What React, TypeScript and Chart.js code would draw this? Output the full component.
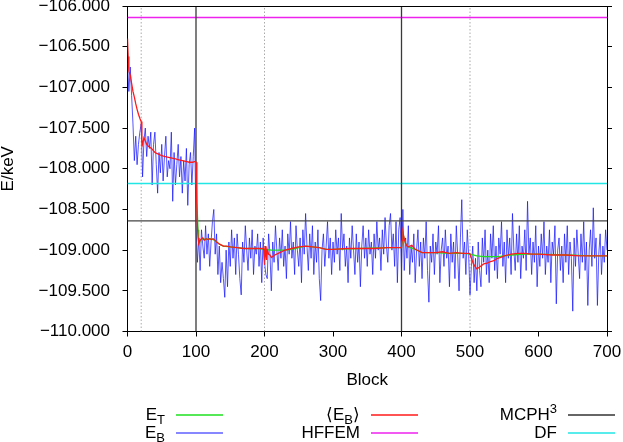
import React, { useEffect, useRef } from "react";
import { Chart, registerables } from "chart.js";

Chart.register(...registerables);

// ---------- data ----------
const blockStep = 2;
// E_B : block energy (every 2nd block, blocks 0..700)
const ebValues = [
  -106.70, -107.05, -106.75, -107.10, -107.45, -107.90, -107.60, -107.95, -107.70, -107.55, -107.45,
  -108.10, -107.65, -107.50, -107.85, -107.60, -107.75, -107.55, -108.20, -107.70, -107.55,
  -107.95, -108.30, -107.80, -108.05, -107.70, -108.15, -107.85, -107.60, -108.10, -107.90,
  -108.00, -107.55, -108.40, -107.80, -108.20, -107.95, -107.70, -108.10, -107.85, -108.30,
  -107.90, -108.15, -107.75, -108.45, -107.95, -107.80, -108.20, -107.85, -107.50, -108.70,
  -109.15, -108.85, -109.25, -108.75, -108.95, -109.10, -108.70, -109.05, -108.80, -109.20,
  -108.90, -108.65, -108.50, -109.05, -108.80, -109.30, -108.95, -109.40, -109.15, -109.35,
  -109.58, -109.00, -109.45, -108.90, -109.20, -108.75, -109.10, -108.85, -109.30, -108.80,
  -109.05, -109.35, -109.55, -108.90, -109.15, -108.70, -109.00, -109.25, -108.85, -109.10,
  -108.75, -109.30, -108.95, -109.05, -108.80, -109.20, -108.90, -109.40, -108.85, -109.15,
  -109.30, -109.35, -108.80, -109.05, -109.50, -108.90, -109.15, -108.70, -109.00, -109.25,
  -108.85, -109.10, -108.75, -109.20, -108.95, -109.35, -108.80, -109.05, -108.65, -109.10,
  -108.90, -109.30, -108.70, -109.00, -109.20, -108.85, -109.40, -108.75, -109.05, -108.55,
  -108.95, -109.25, -108.80, -109.10, -108.70, -109.30, -108.90, -109.15, -108.75, -109.35,
  -109.62, -109.00, -108.80, -109.20, -108.95, -108.65, -109.10, -108.85, -109.30, -108.90,
  -109.15, -108.75, -109.05, -108.85, -109.25, -108.55, -109.00, -108.80, -109.20, -108.95,
  -109.40, -108.85, -109.10, -108.70, -109.00, -109.30, -108.80, -109.15, -108.90, -109.45,
  -108.95, -108.70, -109.10, -108.85, -109.20, -108.75, -109.05, -108.90, -109.30, -108.80,
  -109.10, -108.65, -109.00, -108.85, -109.25, -108.75, -109.05, -108.60, -108.95, -109.15,
  -108.70, -108.55, -109.00, -108.80, -109.20, -108.65, -109.40, -108.75, -108.60, -109.25,
  -108.50, -109.25, -108.85, -109.10, -108.70, -109.30, -108.95, -109.15, -108.80, -109.40,
  -109.00, -108.75, -109.20, -108.90, -109.35, -108.85, -109.10, -108.65, -109.25, -109.64,
  -108.95, -109.15, -108.80, -109.30, -108.90, -109.05, -108.70, -109.40, -109.00, -108.85,
  -109.20, -108.75, -109.10, -108.95, -109.45, -108.80, -109.15, -108.90, -109.35, -108.70,
  -109.05, -109.50, -108.85, -108.38, -109.10, -108.90, -109.30, -108.75, -109.05, -109.55,
  -109.20, -108.95, -109.40, -109.10, -109.50, -108.90, -109.25, -109.45, -108.85, -109.15,
  -108.75, -109.30, -109.00, -109.40, -108.80, -109.10, -108.70, -109.25, -108.95, -109.35,
  -108.85, -109.05, -108.65, -109.20, -108.90, -109.40, -108.75, -109.10, -108.85, -109.30,
  -108.55, -109.00, -109.25, -108.80, -109.15, -108.70, -109.35, -108.95, -109.10, -108.75,
  -109.25, -108.40, -109.05, -108.85, -109.30, -108.90, -109.15, -108.70, -109.45, -108.95,
  -109.20, -108.80, -109.10, -108.65, -109.30, -108.95, -109.15, -108.75, -109.40, -108.90,
  -109.05, -108.70, -109.66, -109.00, -108.85, -109.25, -108.95, -109.40, -108.80, -109.15,
  -108.70, -109.30, -108.90, -109.10, -109.75, -108.85, -109.20, -108.75, -109.05, -109.35,
  -108.80, -109.15, -108.65, -109.25, -108.90, -109.68, -109.00, -108.75, -109.20, -108.48,
  -109.10, -108.85, -109.68, -109.05, -108.80, -109.30, -108.95, -109.15, -108.75, -109.00,
];

// <E_B> : running average
const avgBlocks = [
  0, 1, 2, 4, 6, 8, 10, 12, 14, 16, 18, 19, 20, 21, 22, 24, 26, 28, 30, 35, 40, 45, 50, 55, 60, 65, 70, 75, 80, 85, 90, 95, 99,
  100, 101, 102, 103, 104, 106, 108, 110, 112, 115, 118, 120, 122, 125, 128, 130, 135, 140, 145, 150, 160, 170, 180, 190, 198,
  199, 200, 201, 202, 203, 204, 206, 208, 210, 215, 220, 225, 230, 240, 250, 260, 270, 280, 290, 300, 320, 340, 360, 380, 399,
  400, 401, 402, 404, 406, 408, 410, 415, 420, 425, 430, 440, 450, 460, 470, 480, 490, 499, 500, 502, 505, 508, 510, 512, 515,
  520, 525, 530, 535, 540, 545, 550, 560, 570, 580, 590, 600, 620, 640, 660, 680, 700,
];
const avgValues = [
  -106.40, -106.62, -106.80, -106.85, -106.95, -107.05, -107.12, -107.20, -107.27, -107.33, -107.38, -107.40, -107.42, -107.65, -107.70, -107.62, -107.66, -107.70, -107.72, -107.75, -107.80, -107.82, -107.84, -107.85, -107.86, -107.87, -107.88, -107.89, -107.90, -107.91, -107.92, -107.92, -107.91,
  -107.92, -108.40, -108.70, -108.85, -108.92, -108.88, -108.86, -108.85, -108.88, -108.86, -108.87, -108.86, -108.87, -108.86, -108.88, -108.90, -108.93, -108.95, -108.95, -108.96, -108.97, -108.98, -108.98, -108.98, -108.98,
  -109.00, -109.18, -108.95, -109.05, -109.12, -109.00, -109.05, -109.06, -109.09, -109.06, -109.04, -109.02, -109.00, -108.98, -108.96, -108.95, -108.96, -108.97, -108.99, -108.99, -108.98, -108.98, -108.98, -108.97, -108.97,
  -108.97, -108.88, -108.78, -108.86, -108.92, -108.95, -108.96, -108.94, -108.99, -109.01, -109.03, -109.03, -109.03, -109.02, -109.04, -109.03, -109.04, -109.04, -109.05, -109.10, -109.17, -109.21, -109.23, -109.22, -109.20,
  -109.17, -109.16, -109.14, -109.13, -109.10, -109.09, -109.07, -109.05, -109.04, -109.04, -109.05, -109.05, -109.06, -109.06, -109.07, -109.07, -109.07,
];

// E_T : trial energy
const etBlocks = [
  100, 101, 102, 103, 104, 105, 106, 108, 110, 115, 120, 125, 130, 135, 140, 150, 160, 170, 180, 190, 200, 210, 220, 230, 240,
  250, 260, 270, 280, 290, 300, 340, 380, 400, 401, 402, 404, 406, 410, 420, 430, 450, 470, 490, 500, 510, 520, 530, 540, 550,
  560, 580, 600, 640, 680, 700,
];
const etValues = [
  -107.92, -108.20, -108.55, -108.75, -108.88, -108.92, -108.88, -108.87, -108.86, -108.87, -108.86, -108.87, -108.90, -108.93, -108.95, -108.96, -108.97, -108.98, -108.98, -108.98, -108.99, -109.00, -109.00, -109.00, -108.99,
  -108.97, -108.95, -108.96, -108.97, -108.99, -108.99, -108.98, -108.97, -108.97, -108.90, -108.80, -108.86, -108.92, -108.96, -108.99, -109.03, -109.03, -109.04, -109.04, -109.05, -109.07, -109.08, -109.08, -109.08, -109.07,
  -109.06, -109.05, -109.05, -109.06, -109.07, -109.07,
];

const hffemEnergy = -106.14;
const mcph3Energy = -108.64;
const dfEnergy = -108.18;
const phaseBoundaries = [100, 400];
const dottedMarks = [20, 200, 500];

const blockRange = [0, 700];
const energyRange = [-110, -106];
const xTickStep = 100;
const yTickStep = 0.5;

// legend labels (rich text: [text, "sub" | "sup" | ""])
const labelET = [["E", ""], ["T", "sub"]];
const labelEB = [["E", ""], ["B", "sub"]];
const labelAvg = [["\u27E8E", ""], ["B", "sub"], ["\u27E9", ""]];
const labelHFFEM = [["HFFEM", ""]];
const labelMCPH = [["MCPH", ""], ["3", "sup"]];
const labelDF = [["DF", ""]];

// ---------- helpers ----------
const FONT = "'Liberation Sans', Arial, Helvetica, sans-serif";
const fmtMinus = (v: number, d: number) =>
  (v < 0 ? "\u2212" : "") + Math.abs(v).toFixed(d);

function pairs(xs: number[], ys: number[]) {
  return xs.map((x, i) => ({ x, y: ys[i] }));
}

const richLegend = {
  id: "richLegend",
  afterDraw(chart: any) {
    const ctx: CanvasRenderingContext2D = chart.ctx;
    const entries = chart.data.datasets.filter((d: any) => d.richLabel);
    const colRight = [165, 360, 557];
    const rowBase = [419.5, 437.5];
    const bigFont = `17px ${FONT}`;
    const smallFont = `13px ${FONT}`;
    entries.forEach((ds: any, i: number) => {
      const col = Math.floor(i / 2);
      const row = i % 2;
      const segs: string[][] = ds.richLabel;
      ctx.save();
      ctx.textBaseline = "alphabetic";
      ctx.textAlign = "left";
      let w = 0;
      const widths = segs.map(([t, k]) => {
        ctx.font = k ? smallFont : bigFont;
        const m = ctx.measureText(t).width;
        w += m;
        return m;
      });
      let x = colRight[col] - w;
      const base = rowBase[row];
      ctx.fillStyle = "#000";
      segs.forEach(([t, k], j) => {
        ctx.font = k ? smallFont : bigFont;
        const dy = k === "sub" ? 4.5 : k === "sup" ? -6.5 : 0;
        ctx.fillText(t, x, base + dy);
        x += widths[j];
      });
      ctx.strokeStyle = ds.legendColor || ds.borderColor;
      ctx.lineWidth = 1.3;
      ctx.beginPath();
      const ly = Math.round(base - 4.5);
      ctx.moveTo(colRight[col] + 11, ly);
      ctx.lineTo(colRight[col] + 58, ly);
      ctx.stroke();
      ctx.restore();
    });
  },
};

const frame = {
  id: "frame",
  afterDatasetsDraw(chart: any) {
    const { ctx, chartArea: a } = chart;
    ctx.save();
    ctx.strokeStyle = "#000";
    ctx.lineWidth = 1;
    ctx.beginPath();
    const top = Math.round(a.top) + 0.5;
    ctx.moveTo(a.left, top);
    ctx.lineTo(a.right, top);
    ctx.stroke();
    ctx.restore();
  },
};

const noPad = (s: any) => {
  s.paddingTop = 0;
  s.paddingBottom = 0;
  s.paddingLeft = 0;
  s.paddingRight = 0;
};

export default function App() {
  const ref = useRef<HTMLCanvasElement | null>(null);

  useEffect(() => {
    document.body.style.margin = "0";
    const canvas = ref.current;
    if (!canvas) return;
    Chart.defaults.font.family = FONT;
    Chart.defaults.color = "#000";

    const ebData = ebValues.map((y, i) => ({ x: i * blockStep, y }));
    const line = (v: number) => [
      { x: blockRange[0], y: v },
      { x: blockRange[1], y: v },
    ];
    const vline = (b: number) => [
      { x: b, y: energyRange[0] },
      { x: b, y: energyRange[1] },
    ];

    const common = { pointRadius: 0, tension: 0, fill: false, borderWidth: 1, yAxisID: "y" };

    const datasets: any[] = [
      { ...common, label: "E_T", richLabel: labelET, data: pairs(etBlocks, etValues), borderColor: "#1fe01f", order: 1, borderWidth: 1.3 },
      { ...common, label: "E_B", richLabel: labelEB, data: ebData, borderColor: "rgba(20,20,255,0.8)", legendColor: "#5f5fff", order: 5, borderWidth: 0.9 },
      { ...common, label: "<E_B>", richLabel: labelAvg, data: pairs(avgBlocks, avgValues), borderColor: "#ff1a1a", order: 0, borderWidth: 1.3 },
      { ...common, label: "HFFEM", richLabel: labelHFFEM, data: line(hffemEnergy), borderColor: "#ee22ee", order: 3, borderWidth: 1.5 },
      { ...common, label: "MCPH3", richLabel: labelMCPH, data: line(mcph3Energy), borderColor: "#444444", legendColor: "#333333", order: 3, borderWidth: 1.4 },
      { ...common, label: "DF", richLabel: labelDF, data: line(dfEnergy), borderColor: "#22e6e6", order: 3, borderWidth: 1.5 },
      ...phaseBoundaries.map((b) => ({ ...common, label: "boundary", data: vline(b), borderColor: "#3a3a3a", order: 2, borderWidth: 1.3 })),
      ...dottedMarks.map((b) => ({ ...common, label: "mark", data: vline(b), borderColor: "#aaaaaa", borderDash: [1.5, 2], order: 6 })),
    ];

    const axisFont = { size: 17, family: FONT };

    const chart = new Chart(canvas, {
      type: "line",
      data: { datasets },
      plugins: [frame, richLegend],
      options: {
        animation: false,
        responsive: false,
        parsing: false as any,
        layout: { padding: { top: 6, bottom: 51.8, left: 0, right: 0 } },
        plugins: { legend: { display: false }, tooltip: { enabled: false } },
        scales: {
          x: {
            type: "linear",
            position: "bottom",
            min: blockRange[0],
            max: blockRange[1],
            afterFit: (s: any) => { s.height = 58.7; noPad(s); },
            ticks: { stepSize: xTickStep, font: axisFont, padding: 6, maxRotation: 0, callback: (v: any) => fmtMinus(Number(v), 0) },
            grid: { drawOnChartArea: false, drawTicks: true, tickLength: 5, color: "#000" },
            border: { display: true, color: "#000" },
            title: { display: true, text: "Block", font: axisFont, padding: 0 },
          },
          y: {
            type: "linear",
            position: "left",
            min: energyRange[0],
            max: energyRange[1],
            afterFit: (s: any) => { s.width = 127.5; noPad(s); },
            ticks: { stepSize: yTickStep, font: axisFont, padding: 12.5, callback: (v: any) => fmtMinus(Number(v), 3) },
            grid: { drawOnChartArea: false, drawTicks: true, tickLength: 5, color: "#000" },
            border: { display: true, color: "#000" },
            title: { display: true, text: "E/keV", font: { ...axisFont, lineHeight: 1 }, padding: 0 },
          },
          y2: {
            type: "linear",
            position: "right",
            min: energyRange[0],
            max: energyRange[1],
            afterFit: (s: any) => { s.width = 16; noPad(s); },
            ticks: { stepSize: yTickStep, display: false },
            grid: { drawOnChartArea: false, drawTicks: true, tickLength: 5, color: "#000" },
            border: { display: true, color: "#000" },
          },
        },
      } as any,
    });
    return () => chart.destroy();
  }, []);

  return (
    <div style={{ width: 623, height: 442 }}>
      <canvas ref={ref} width={623} height={442} style={{ display: "block" }} />
    </div>
  );
}
